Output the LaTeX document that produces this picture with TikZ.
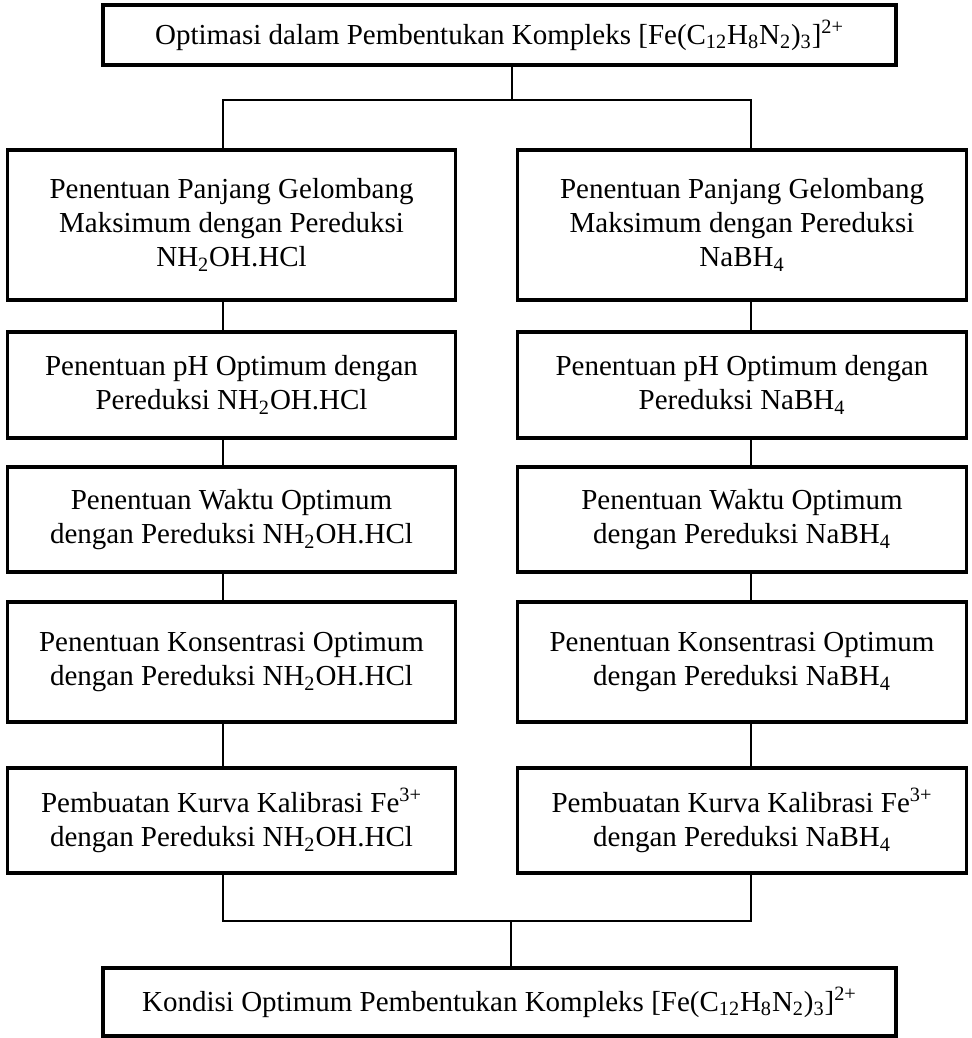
\documentclass[tikz,border=0pt]{standalone}
\usepackage{fontspec}
\setmainfont{Liberation Serif}
\newcommand{\kompleks}{[Fe(C\textsubscript{12}H\textsubscript{8}N\textsubscript{2})\textsubscript{3}]\textsuperscript{2+}}
\begin{document}
\begin{tikzpicture}
[kotak/.style={draw, line width=1.9pt, align=center, inner sep=0pt, font=\fontsize{16.5}{19.4}\selectfont},
 kolom/.style={kotak, minimum width=8.97cm},
 line width=.75pt]
\useasboundingbox (0,0) rectangle (19.42,-20.76);

\node (Opt) at (9.99,-0.70) [kotak, minimum width=15.86cm, minimum height=1.2cm] {Optimasi dalam Pembentukan Kompleks \kompleks};

% pereduksi NH2OH.HCl
\node (LgH) at (4.63,-4.50) [kolom, minimum height=3.0cm] {Penentuan Panjang Gelombang\\Maksimum dengan Pereduksi\\NH\textsubscript{2}OH.HCl};
\node (pHH) at (4.63,-7.70) [kolom, minimum height=2.12cm] {Penentuan pH Optimum dengan\\Pereduksi NH\textsubscript{2}OH.HCl};
\node (WkH) at (4.63,-10.39) [kolom, minimum height=2.1cm] {Penentuan Waktu Optimum\\dengan Pereduksi NH\textsubscript{2}OH.HCl};
\node (KsH) at (4.63,-13.24) [kolom, minimum height=2.4cm] {Penentuan Konsentrasi Optimum\\dengan Pereduksi NH\textsubscript{2}OH.HCl};
\node (KvH) at (4.63,-16.41) [kolom, minimum height=2.1cm] {Pembuatan Kurva Kalibrasi Fe\textsuperscript{3+}\\dengan Pereduksi NH\textsubscript{2}OH.HCl};

% pereduksi NaBH4
\node (LgB) at (14.84,-4.50) [kolom, minimum height=3.0cm] {Penentuan Panjang Gelombang\\Maksimum dengan Pereduksi\\NaBH\textsubscript{4}};
\node (pHB) at (14.84,-7.70) [kolom, minimum height=2.12cm] {Penentuan pH Optimum dengan\\Pereduksi NaBH\textsubscript{4}};
\node (WkB) at (14.84,-10.39) [kolom, minimum height=2.1cm] {Penentuan Waktu Optimum\\dengan Pereduksi NaBH\textsubscript{4}};
\node (KsB) at (14.84,-13.24) [kolom, minimum height=2.4cm] {Penentuan Konsentrasi Optimum\\dengan Pereduksi NaBH\textsubscript{4}};
\node (KvB) at (14.84,-16.41) [kolom, minimum height=2.1cm] {Pembuatan Kurva Kalibrasi Fe\textsuperscript{3+}\\dengan Pereduksi NaBH\textsubscript{4}};

\node (Kon) at (9.99,-20.04) [kotak, minimum width=15.86cm, minimum height=1.36cm] {Kondisi Optimum Pembentukan Kompleks \kompleks};

\coordinate (bagi) at (10.24,-2.00);
\coordinate (gabung) at (10.22,-18.42);
\coordinate (kiri) at (4.46,0);
\coordinate (kanan) at (15.02,0);

\draw (Opt.south -| bagi) -- (bagi);
\draw (LgH.north -| kiri) |- (bagi) -| (LgB.north -| kanan);
\foreach \a/\b in {LgH/pHH, pHH/WkH, WkH/KsH, KsH/KvH}
  \draw (\a.south -| kiri) -- (\b.north -| kiri);
\foreach \a/\b in {LgB/pHB, pHB/WkB, WkB/KsB, KsB/KvB}
  \draw (\a.south -| kanan) -- (\b.north -| kanan);
\draw (KvH.south -| kiri) |- (gabung) -| (KvB.south -| kanan);
\draw (gabung) -- (Kon.north -| gabung);
\end{tikzpicture}
\end{document}
